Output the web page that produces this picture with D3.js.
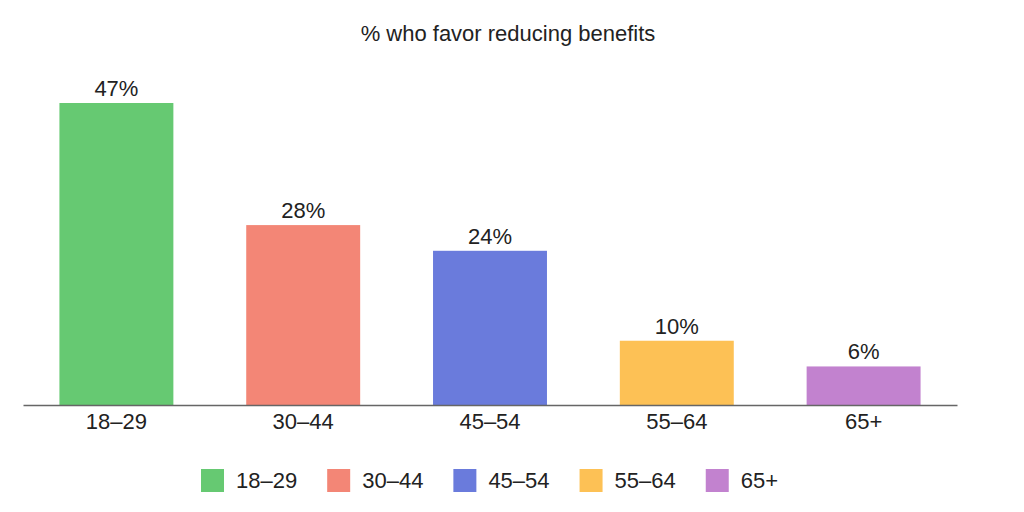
<!DOCTYPE html>
<html>
<head>
<meta charset="utf-8">
<script src="https://cdn.jsdelivr.net/npm/d3@7"></script>
<style>
  body { margin: 0; background: #fff; }
  text { font-family: "Liberation Sans", Arial, sans-serif; fill: #222; }
</style>
</head>
<body>
<svg id="chart"></svg>
<script>
// data
const categories = ["18–29", "30–44", "45–54", "55–64", "65+"];
const values = [47, 28, 24, 10, 6];
const colors = ["#66c972", "#f38676", "#6a7bdc", "#fdc155", "#c282cf"];

const W = 1024, H = 512;
const margin = { top: 103, right: 67, bottom: 107, left: 23 };
const width = W - margin.left - margin.right;
const height = H - margin.top - margin.bottom;

const svg = d3.select("#chart")
    .attr("width", W)
    .attr("height", H);

// title
svg.append("text")
    .attr("x", 508)
    .attr("y", 41)
    .attr("text-anchor", "middle")
    .style("font-size", "22px")
    .text("% who favor reducing benefits");

const g = svg.append("g")
    .attr("transform", "translate(" + margin.left + "," + margin.top + ")");

const x = d3.scaleBand()
    .domain(categories)
    .range([0, width])
    .paddingInner(0.39)
    .paddingOuter(0.195);

const y = d3.scaleLinear()
    .domain([0, 47])
    .range([height, 0]);

// bars
g.selectAll(".bar")
  .data(values)
  .enter().append("rect")
    .attr("class", "bar")
    .attr("x", (d, i) => x(categories[i]))
    .attr("y", d => y(d))
    .attr("width", x.bandwidth())
    .attr("height", d => height - y(d))
    .attr("fill", (d, i) => colors[i]);

// value labels
g.selectAll(".val")
  .data(values)
  .enter().append("text")
    .attr("class", "val")
    .attr("x", (d, i) => x(categories[i]) + x.bandwidth() / 2)
    .attr("y", d => y(d) - 7)
    .attr("text-anchor", "middle")
    .style("font-size", "22px")
    .text(d => d + "%");

// x axis
const xAxis = g.append("g")
    .attr("transform", "translate(0," + height + ")")
    .call(d3.axisBottom(x).tickSize(0).tickPadding(8));
xAxis.select(".domain").attr("stroke", "#666").attr("stroke-width", 1.5);
xAxis.selectAll("text")
    .style("font-size", "22px")
    .style("font-family", "'Liberation Sans', Arial, sans-serif")
    .attr("fill", "#222");

// legend
const legend = svg.append("g").attr("transform", "translate(201,469)");
let lx = 0;
categories.forEach((c, i) => {
  const item = legend.append("g").attr("transform", "translate(" + lx + ",0)");
  item.append("rect")
      .attr("width", 23)
      .attr("height", 23)
      .attr("fill", colors[i]);
  const t = item.append("text")
      .attr("x", 35)
      .attr("y", 19)
      .style("font-size", "22px")
      .text(c);
  lx += 35 + t.node().getComputedTextLength() + 30;
});
</script>
</body>
</html>
